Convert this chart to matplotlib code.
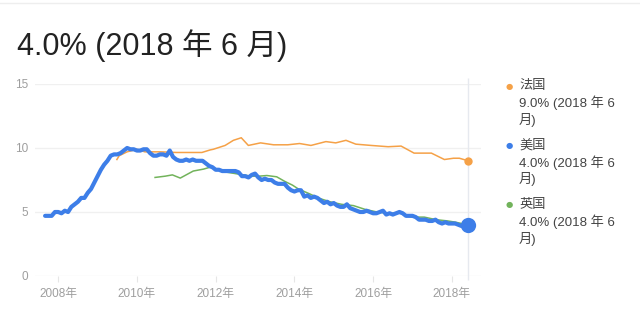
import numpy as np
import matplotlib
matplotlib.use("Agg")
import matplotlib.pyplot as plt

plt.rcParams['font.family'] = ['Liberation Sans', 'Noto Sans CJK SC', 'DejaVu Sans']

# 美国: monthly, Sep 2007 .. Jun 2018
us_start = 2007 + 8 / 12
us_values = [4.7, 4.7, 4.7, 5.0,
             5.0, 4.9, 5.1, 5.0, 5.4, 5.6, 5.8, 6.1, 6.1, 6.5, 6.8, 7.3,
             7.8, 8.3, 8.7, 9.0, 9.4, 9.5, 9.5, 9.6, 9.8, 10.0, 9.9, 9.9,
             9.8, 9.8, 9.9, 9.9, 9.6, 9.4, 9.4, 9.5, 9.5, 9.4, 9.8, 9.3,
             9.1, 9.0, 9.0, 9.1, 9.0, 9.1, 9.0, 9.0, 9.0, 8.8, 8.6, 8.5,
             8.3, 8.3, 8.2, 8.2, 8.2, 8.2, 8.2, 8.1, 7.8, 7.8, 7.7, 7.9,
             8.0, 7.7, 7.5, 7.6, 7.5, 7.5, 7.3, 7.2, 7.2, 7.2, 6.9, 6.7,
             6.6, 6.7, 6.7, 6.2, 6.3, 6.1, 6.2, 6.1, 5.9, 5.7, 5.8, 5.6,
             5.7, 5.5, 5.4, 5.4, 5.6, 5.3, 5.2, 5.1, 5.0, 5.0, 5.1, 5.0,
             4.9, 4.9, 5.0, 5.1, 4.8, 4.9, 4.8, 4.9, 5.0, 4.9, 4.7, 4.7,
             4.7, 4.6, 4.4, 4.4, 4.4, 4.3, 4.3, 4.4, 4.2, 4.1, 4.2, 4.1,
             4.1, 4.1, 4.0, 3.9, 3.8, 4.0]

# 法国
fr_dates = [2009.49, 2009.55, 2009.75, 2010.0, 2010.2, 2010.6, 2011.0, 2011.4,
            2011.65, 2011.86, 2011.94, 2012.24, 2012.45, 2012.65, 2012.83,
            2013.14, 2013.47, 2013.83, 2014.13, 2014.42, 2014.8, 2015.05,
            2015.31, 2015.56, 2015.95, 2016.38, 2016.71, 2017.04, 2017.48,
            2017.81, 2018.04, 2018.19, 2018.417]
fr_values = [9.1, 9.4, 9.7, 9.9, 9.7, 9.7, 9.65, 9.65,
             9.65, 9.85, 9.9, 10.2, 10.6, 10.8, 10.2,
             10.4, 10.25, 10.25, 10.35, 10.2, 10.5, 10.4,
             10.6, 10.3, 10.2, 10.1, 10.15, 9.6, 9.6,
             9.1, 9.2, 9.2, 9.0]

# 英国
uk_dates = [2010.46, 2010.72, 2010.9, 2011.1, 2011.28, 2011.43, 2011.69, 2011.86,
            2012.0, 2012.3, 2012.5, 2012.7, 2012.9, 2013.1, 2013.3, 2013.55,
            2013.75, 2013.95, 2014.1, 2014.4, 2014.6, 2014.9, 2015.2, 2015.5,
            2015.8, 2016.1, 2016.4, 2016.7, 2017.0, 2017.3, 2017.6, 2017.9,
            2018.1, 2018.25, 2018.417]
uk_values = [7.7, 7.8, 7.9, 7.65, 7.95, 8.2, 8.35, 8.5,
             8.35, 8.1, 8.0, 7.9, 7.8, 7.8, 7.85, 7.75,
             7.4, 7.1, 6.8, 6.4, 6.1, 5.8, 5.6, 5.5,
             5.2, 5.0, 4.9, 4.9, 4.6, 4.6, 4.4, 4.3,
             4.2, 4.1, 4.0]

years = list(range(2008, 2019, 2))
year_labels = [f"{y}年" for y in years]
yticks = [0, 5, 10, 15]

c_fr = '#f5a147'
c_us = '#3d7ee8'
c_uk = '#72b35b'

us_dates = us_start + np.arange(len(us_values)) / 12

fig = plt.figure(figsize=(6.4, 3.16), dpi=100)
ax = fig.add_axes([35 / 640, 1 - 276 / 316, (481 - 35) / 640, (276 - 84) / 316])

for y in yticks:
    ax.axhline(y, color='#f0f0f0', lw=1, zorder=0)

ax.plot(fr_dates, fr_values, color=c_fr, lw=1.1, zorder=2)
ax.plot(uk_dates, uk_values, color=c_uk, lw=1.1, zorder=2)
ax.plot(us_dates, us_values, color=c_us, lw=3.0, zorder=3, solid_capstyle='round')

last = us_dates[-1]
ax.vlines(last, -0.3, 15.5, color='#e6e9ef', lw=1, zorder=1, clip_on=False)
ax.plot([fr_dates[-1]], [fr_values[-1]], 'o', color=c_fr, ms=6, mec='none', zorder=4)
ax.plot([last], [us_values[-1]], 'o', color=c_us, ms=11, mec='none', zorder=5)

ax.set_xlim(2007.41, 2018.74)
ax.set_ylim(0, 15)
ax.set_xticks(years)
ax.set_xticklabels(year_labels)
ax.set_yticks(yticks)
for s in ax.spines.values():
    s.set_visible(False)
ax.tick_params(axis='x', length=4, color='#e6e6e6', pad=5, labelsize=8.5, labelcolor='#9e9e9e')
ax.tick_params(axis='y', length=0, pad=5, labelsize=8.5, labelcolor='#9e9e9e')

fig.text(17 / 640, 1 - 55 / 316, f"{us_values[-1]:.1f}% (2018 年 6 月)", fontsize=22,
         color='#222222', va='baseline', ha='left')
fig.add_artist(plt.Line2D([0, 1], [1 - 3 / 316, 1 - 3 / 316], color='#eeeeee', lw=1))

legend = [("法国", fr_values[-1], c_fr), ("美国", us_values[-1], c_us), ("英国", uk_values[-1], c_uk)]
for i, (name, val, col) in enumerate(legend):
    y0 = 86 + i * 59.5
    fig.text(509 / 640, 1 - y0 / 316, "●", color=col, fontsize=6, ha='center', va='center',
             family=['DejaVu Sans'])
    lines = [name, f"{val:.1f}% (2018 年 6", "月)"]
    for j, t in enumerate(lines):
        fig.text(519 / 640, 1 - (y0 + j * 17) / 316, t, fontsize=9.5, color='#444444',
                 ha='left', va='center')

fig.savefig("out.png", dpi=100)
